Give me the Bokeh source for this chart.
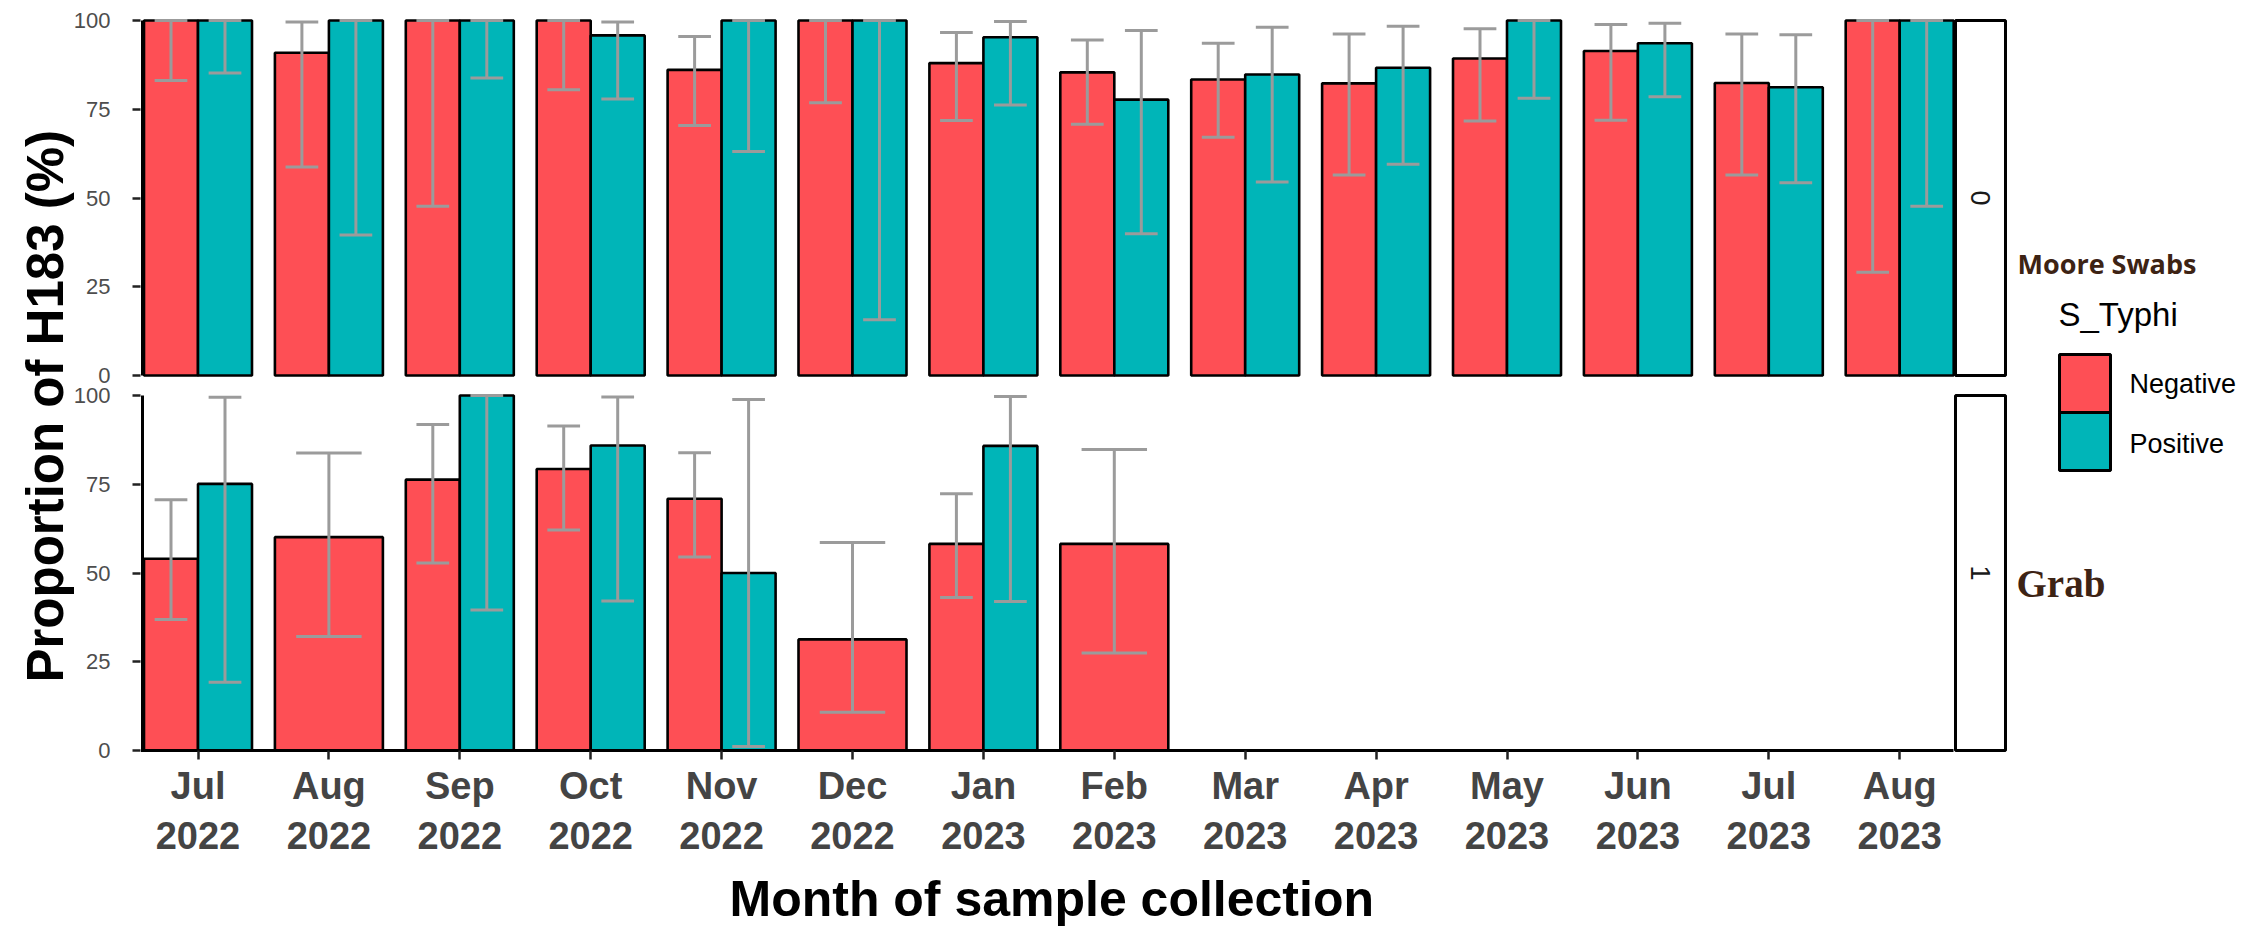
import math
from bokeh.plotting import figure
from bokeh.models import ColumnDataSource, Range1d, FixedTicker, CustomJSTickFormatter
from bokeh.core.properties import value
from bokeh.embed import file_html
from bokeh.resources import INLINE

# ---------------- data ----------------
months = ["Jul\n2022", "Aug\n2022", "Sep\n2022", "Oct\n2022", "Nov\n2022", "Dec\n2022",
          "Jan\n2023", "Feb\n2023", "Mar\n2023", "Apr\n2023", "May\n2023", "Jun\n2023",
          "Jul\n2023", "Aug\n2023"]

# Panel "0" (Moore Swabs)
moore_neg    = [100, 90.9, 100, 100, 86.1, 100, 88.0, 85.4, 83.4, 82.3, 89.3, 91.4, 82.4, 100]
moore_neg_lo = [83.1, 58.7, 47.7, 80.5, 70.4, 76.8, 71.8, 70.8, 67.1, 56.5, 71.7, 71.9, 56.5, 29.1]
moore_neg_hi = [100, 99.6, 100, 100, 95.5, 100, 96.6, 94.5, 93.6, 96.2, 97.7, 98.9, 96.2, 100]
moore_pos    = [100, 100, 100, 95.8, 100, 100, 95.3, 77.7, 84.8, 86.7, 100, 93.6, 81.2, 100]
moore_pos_lo = [85.2, 39.6, 83.8, 77.9, 63.1, 15.7, 76.2, 39.9, 54.5, 59.5, 78.1, 78.5, 54.3, 47.7]
moore_pos_hi = [100, 100, 100, 99.6, 100, 100, 99.7, 97.2, 98.1, 98.4, 100, 99.2, 96.0, 100]

# Panel "1" (Grab)
grab_neg    = [54.0, 60.1, 76.3, 79.3, 70.9, 31.3, 58.2, 58.2, None, None, None, None, None, None]
grab_neg_lo = [36.9, 32.1, 52.8, 62.1, 54.5, 10.8, 43.1, 27.5, None, None, None, None, None, None]
grab_neg_hi = [70.6, 83.8, 91.8, 91.4, 83.9, 58.6, 72.3, 84.8, None, None, None, None, None, None]
grab_pos    = [75.1, None, 100, 85.9, 50.0, None, 85.8, None, None, None, None, None, None, None]
grab_pos_lo = [19.2, None, 39.6, 42.1, 1.1, None, 42.0, None, None, None, None, None, None, None]
grab_pos_hi = [99.5, None, 100, 99.6, 98.9, None, 99.7, None, None, None, None, None, None, None]

y_ticks = [0, 25, 50, 75, 100]
legend_labels = ["Negative", "Positive"]

NEG_COLOR = "#FE4F55"
POS_COLOR = "#00B5B8"
ERR_COLOR = "#9B9B9B"

# ---------------- layout helpers (page pixels -> data) ----------------
W, H = 2265, 930
PITCH, C1 = 130.9, 197.5
def xd(px):
    return 1 + (px - C1) / PITCH
PY, Y0 = 3.55, 750.0
def yd(py):
    return (Y0 - py) / PY
OFF = yd(375)          # data offset of the upper panel
BW = 0.825             # total dodge width
BASE_SHIFT = 0.37      # baseline correction (in em) for alphabetic text placement

p = figure(frame_width=W, frame_height=H, title=None,
           x_range=Range1d(xd(0), xd(W)),
           y_range=Range1d(yd(H), yd(0)),
           output_backend="svg", toolbar_location=None,
           min_border_left=0, min_border_right=0, min_border_top=0, min_border_bottom=0)
p.outline_line_color = None
p.grid.visible = False
p.background_fill_color = "white"
p.border_fill_color = "white"


def panel(neg, neg_lo, neg_hi, pos, pos_lo, pos_hi, off):
    bars = dict(l=[], r=[], b=[], t=[], c=[])
    err = dict(x=[], lo=[], hi=[], cl=[], cr=[])
    for i in range(len(months)):
        xi = i + 1
        items = []
        if neg[i] is not None and pos[i] is not None:
            items.append((neg[i], neg_lo[i], neg_hi[i], xi - BW / 2, xi, NEG_COLOR))
            items.append((pos[i], pos_lo[i], pos_hi[i], xi, xi + BW / 2, POS_COLOR))
        elif neg[i] is not None:
            items.append((neg[i], neg_lo[i], neg_hi[i], xi - BW / 2, xi + BW / 2, NEG_COLOR))
        elif pos[i] is not None:
            items.append((pos[i], pos_lo[i], pos_hi[i], xi - BW / 2, xi + BW / 2, POS_COLOR))
        for v, lo, hi, l, r, c in items:
            bars["l"].append(l); bars["r"].append(r)
            bars["b"].append(off); bars["t"].append(off + v); bars["c"].append(c)
            cx = (l + r) / 2
            cw = (r - l) * (0.5 / BW)
            err["x"].append(cx); err["lo"].append(off + lo); err["hi"].append(off + hi)
            err["cl"].append(cx - cw / 2); err["cr"].append(cx + cw / 2)
    bs = ColumnDataSource(bars)
    p.quad(left="l", right="r", bottom="b", top="t", fill_color="c", line_color="black",
           line_width=2.6, source=bs)
    es = ColumnDataSource(err)
    p.segment(x0="x", y0="lo", x1="x", y1="hi", line_color=ERR_COLOR, line_width=3, source=es)
    p.segment(x0="cl", y0="lo", x1="cr", y1="lo", line_color=ERR_COLOR, line_width=3, source=es)
    p.segment(x0="cl", y0="hi", x1="cr", y1="hi", line_color=ERR_COLOR, line_width=3, source=es)


panel(moore_neg, moore_neg_lo, moore_neg_hi, moore_pos, moore_pos_lo, moore_pos_hi, OFF)
panel(grab_neg, grab_neg_lo, grab_neg_hi, grab_pos, grab_pos_lo, grab_pos_hi, 0.0)

# axis lines (panel-wise)
ax = xd(142)
p.segment(x0=[ax, ax], y0=[0, OFF], x1=[ax, ax], y1=[100, OFF + 100],
          line_color="black", line_width=3)
p.segment(x0=[xd(140.5)], y0=[0], x1=[xd(1953)], y1=[0], line_color="black", line_width=3)

# strips
p.quad(left=[xd(1955)] * 2, right=[xd(2005)] * 2, bottom=[OFF, 0], top=[OFF + 100, 100],
       fill_color="white", line_color="black", line_width=3)
p.text(x=[xd(1980)] * 2, y=[OFF + 50, 50], text=["0", "1"], angle=-math.pi / 2,
       text_font=value("Liberation Sans"), text_font_size="27px", text_color="#1A1A1A",
       text_align="center", text_baseline="middle")


def htext(px, py, txt, size, font, color, bold=False):
    """left-aligned horizontal text with its baseline at page (px, py)"""
    p.text(x=[xd(px)], y=[yd(py - BASE_SHIFT * size)], text=[txt], text_font=value(font),
           text_font_style="bold" if bold else "normal", text_font_size=f"{size}px",
           text_color=color, text_baseline="alphabetic", text_align="left")


# annotations added on the figure
htext(2017, 273, "Moore Swabs", 27, "Open Sans", "#3D2314", bold=True)
htext(2016, 597, "Grab", 39, "Liberation Serif", "#3D2314", bold=True)

# legend
htext(2058, 326, "S_Typhi", 33, "Liberation Sans", "black")
p.quad(left=[xd(2059)] * 2, right=[xd(2110)] * 2, top=[yd(354), yd(412)], bottom=[yd(412), yd(470)],
       fill_color=[NEG_COLOR, POS_COLOR], line_color="black", line_width=3)
htext(2129, 393, legend_labels[0], 27, "Liberation Sans", "black")
htext(2129, 453, legend_labels[1], 27, "Liberation Sans", "black")

# axis titles
YT = 51
p.text(x=[xd(64 - BASE_SHIFT * YT)], y=[yd(682)], text=["Proportion of H183 (%)"], angle=math.pi / 2,
       text_font=value("Liberation Sans"), text_font_style="bold", text_font_size=f"{YT}px",
       text_color="black", text_align="left", text_baseline="alphabetic")
htext(729, 917, "Month of sample collection", 50, "Liberation Sans", "black", bold=True)

# axes
xa = p.xaxis[0]
xa.fixed_location = 0
xa.ticker = FixedTicker(ticks=list(range(1, len(months) + 1)))
xa.formatter = CustomJSTickFormatter(args=dict(labels=months),
                                     code="const i = Math.round(tick) - 1; return (i >= 0 && i < labels.length) ? labels[i] : '';")
xa.axis_line_color = None
xa.major_tick_out = 9
xa.major_tick_in = 0
xa.minor_tick_line_color = None
xa.major_tick_line_color = "#222222"
xa.major_tick_line_width = 2.5
xa.major_label_text_font = "Liberation Sans"
xa.major_label_text_font_style = "bold"
xa.major_label_text_font_size = "38px"
xa.major_label_text_color = "#444444"
xa.major_label_standoff = 5

ya = p.yaxis[0]
ya.fixed_location = xd(140)
ya.ticker = FixedTicker(ticks=y_ticks + [OFF + t for t in y_ticks])
ya.formatter = CustomJSTickFormatter(args=dict(off=OFF),
                                     code="const v = tick > off - 1 ? tick - off : tick; return String(Math.round(v));")
ya.axis_line_color = None
ya.major_tick_out = 8
ya.major_tick_in = 0
ya.minor_tick_line_color = None
ya.major_tick_line_color = "#222222"
ya.major_tick_line_width = 2.5
ya.major_label_text_font = "Liberation Sans"
ya.major_label_text_font_size = "22px"
ya.major_label_text_color = "#4D4D4D"
ya.major_label_standoff = 22

open("out.html", "w").write(file_html(p, INLINE))
